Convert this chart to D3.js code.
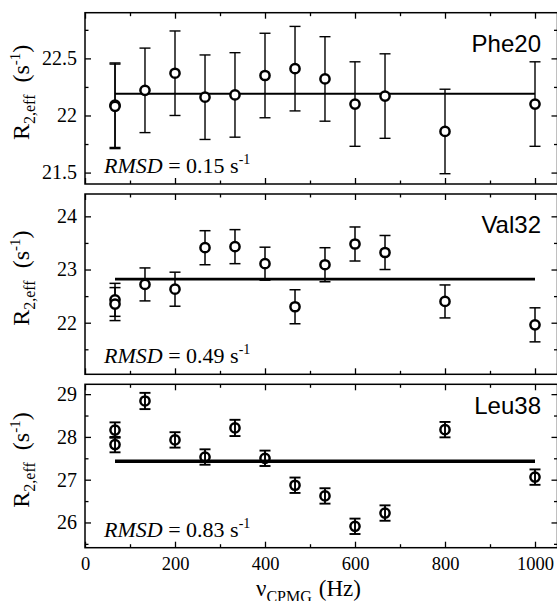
<!DOCTYPE html>
<meta charset="utf-8" />
<style>
  body {
    margin: 0;
    background: #fff;
  }
  svg text {
    font-family: "Liberation Serif", "DejaVu Serif", serif !important;
    fill: #000;
  }
  svg text.sans {
    font-family: "Liberation Sans", Arial, sans-serif !important;
  }
</style>
<body>
  <div id="my_dataviz"></div>
  <script src="https://d3js.org/d3.v7.min.js"></script>
  <script>
    // CPMG frequencies (Hz) - the lowest one was recorded twice
    var freq = [66.7, 66.7, 133.3, 200, 266.7, 333.3, 400, 466.7, 533.3, 600, 666.7, 800, 1000];

    // Phe20
    var phe20R2 = [22.09, 22.08, 22.22, 22.37, 22.16, 22.18, 22.35, 22.41, 22.32, 22.1, 22.17, 21.86, 22.1];
    var phe20Err = [0.37, 0.37, 0.37, 0.37, 0.37, 0.37, 0.37, 0.37, 0.37, 0.37, 0.37, 0.37, 0.37];
    var phe20Fit = 22.19;
    var phe20Rmsd = "0.15";

    // Val32
    var val32R2 = [22.43, 22.35, 22.72, 22.63, 23.41, 23.43, 23.11, 22.3, 23.09, 23.48, 23.32, 22.4, 21.96];
    var val32Err = [0.31, 0.31, 0.31, 0.32, 0.32, 0.32, 0.31, 0.32, 0.32, 0.32, 0.32, 0.31, 0.32];
    var val32Fit = 22.82;
    var val32Rmsd = "0.49";

    // Leu38
    var leu38R2 = [28.16, 27.82, 28.84, 27.93, 27.53, 28.21, 27.5, 26.87, 26.62, 25.91, 26.22, 28.17, 27.06];
    var leu38Err = [0.18, 0.18, 0.19, 0.18, 0.18, 0.19, 0.18, 0.18, 0.18, 0.18, 0.18, 0.18, 0.18];
    var leu38Fit = 27.43;
    var leu38Rmsd = "0.83";

    // tick values
    var xMajor = [0, 200, 400, 600, 800, 1000];
    var xMinor = [100, 300, 500, 700, 900];
    var phe20Major = [21.5, 22, 22.5];
    var phe20Minor = [21.75, 22.25, 22.75];
    var val32Major = [22, 23, 24];
    var val32Minor = [21.5, 22.5, 23.5];
    var leu38Major = [26, 27, 28, 29];
    var leu38Minor = [25.5, 26.5, 27.5, 28.5];

    var width = 557,
      height = 601;

    var svg = d3
      .select("#my_dataviz")
      .append("svg")
      .attr("width", width)
      .attr("height", height);

    // shared x scale
    var x = d3
      .scaleLinear()
      .domain([0, 1050])
      .range([85, 557.5]);

    // one entry per stacked panel (layout + which arrays it uses)
    var panels = [
      {
        name: "Phe20", r2: phe20R2, err: phe20Err, fit: phe20Fit, rmsd: phe20Rmsd,
        major: phe20Major, minor: phe20Minor, domain: [21.4, 22.9],
        top: 12.7, bottom: 184, fitW: 2, barW: 1.4, ringFill: "#fff", labelY: 52
      },
      {
        name: "Val32", r2: val32R2, err: val32Err, fit: val32Fit, rmsd: val32Rmsd,
        major: val32Major, minor: val32Minor, domain: [21.03, 24.42],
        top: 194, bottom: 374.3, fitW: 2.6, barW: 1.5, ringFill: "#fff", labelY: 233
      },
      {
        name: "Leu38", r2: leu38R2, err: leu38Err, fit: leu38Fit, rmsd: leu38Rmsd,
        major: leu38Major, minor: leu38Minor, domain: [25.41, 29.23],
        top: 384.3, bottom: 547.7, fitW: 3.4, barW: 1.9, ringFill: "none", labelY: 414
      }
    ];

    panels.forEach(function(p, i) {
      var last = i === panels.length - 1;
      var y = d3
        .scaleLinear()
        .domain(p.domain)
        .range([p.bottom, p.top]);

      var g = svg.append("g");

      // ticks all point inward, on all four sides
      function tickGroup(axis, transform) {
        var a = g.append("g").attr("transform", transform).call(axis);
        a.attr("font-family", null);
        a.select(".domain").remove();
        a.selectAll("line").attr("stroke", "#000").attr("stroke-width", 1.3);
        return a;
      }

      var xb = tickGroup(
        d3.axisBottom(x).tickValues(xMajor).tickSize(-6).tickPadding(9)
          .tickFormat(last ? d3.format("d") : ""),
        "translate(0," + p.bottom + ")"
      );
      xb.selectAll("text").style("font-size", "18.5px");
      tickGroup(d3.axisBottom(x).tickValues(xMinor).tickSize(-3.5).tickFormat(""), "translate(0," + p.bottom + ")");
      tickGroup(d3.axisTop(x).tickValues(xMajor).tickSize(-6).tickFormat(""), "translate(0," + p.top + ")");
      tickGroup(d3.axisTop(x).tickValues(xMinor).tickSize(-3.5).tickFormat(""), "translate(0," + p.top + ")");

      var yl = tickGroup(
        d3.axisLeft(y).tickValues(p.major).tickSize(-6).tickPadding(8).tickFormat(d3.format("~f")),
        "translate(" + x(0) + ",0)"
      );
      yl.selectAll("text").style("font-size", "20px");
      tickGroup(d3.axisLeft(y).tickValues(p.minor).tickSize(-3.5).tickFormat(""), "translate(" + x(0) + ",0)");
      tickGroup(d3.axisRight(y).tickValues(p.major).tickSize(-6).tickFormat(""), "translate(" + x(1050) + ",0)");
      tickGroup(d3.axisRight(y).tickValues(p.minor).tickSize(-3.5).tickFormat(""), "translate(" + x(1050) + ",0)");

      // frame
      g.append("rect")
        .attr("x", x(0))
        .attr("y", p.top)
        .attr("width", x(1050) - x(0))
        .attr("height", p.bottom - p.top)
        .attr("fill", "none")
        .attr("stroke", "#000")
        .attr("stroke-width", 1.5);

      // flat fit line
      g.append("line")
        .attr("x1", x(freq[0]))
        .attr("x2", x(freq[freq.length - 1]))
        .attr("y1", y(p.fit))
        .attr("y2", y(p.fit))
        .attr("stroke", "#000")
        .attr("stroke-width", p.fitW);

      var pts = freq.map(function(f, j) {
        return { f: f, v: p.r2[j], e: p.err[j] };
      });

      // error bars
      var bars = g.selectAll(".bar").data(pts).enter().append("g")
        .attr("stroke", "#000")
        .attr("stroke-width", p.barW);
      bars.append("line")
        .attr("x1", function(d) { return x(d.f); })
        .attr("x2", function(d) { return x(d.f); })
        .attr("y1", function(d) { return y(d.v - d.e); })
        .attr("y2", function(d) { return y(d.v + d.e); });
      [-1, 1].forEach(function(s) {
        bars.append("line")
          .attr("x1", function(d) { return x(d.f) - 5.5; })
          .attr("x2", function(d) { return x(d.f) + 5.5; })
          .attr("y1", function(d) { return y(d.v + s * d.e); })
          .attr("y2", function(d) { return y(d.v + s * d.e); });
      });

      // open circles
      g.selectAll(".pt").data(pts).enter().append("circle")
        .attr("cx", function(d) { return x(d.f); })
        .attr("cy", function(d) { return y(d.v); })
        .attr("r", 4.6)
        .attr("fill", p.ringFill)
        .attr("stroke", "#000")
        .attr("stroke-width", 2.5);

      // residue name
      g.append("text")
        .attr("class", "sans")
        .attr("x", 541)
        .attr("y", p.labelY)
        .attr("text-anchor", "end")
        .style("font-size", "24px")
        .text(p.name);

      // RMSD note
      var r = g.append("text")
        .attr("x", 104)
        .attr("y", p.bottom - 11)
        .style("font-size", "22px");
      r.append("tspan").style("font-style", "italic").text("RMSD");
      r.append("tspan").text(" = " + p.rmsd + " s");
      r.append("tspan").attr("dy", -9).style("font-size", "14px").text("-1");

      // y title
      var yt = g.append("text")
        .attr("transform", "translate(29," + ((p.top + p.bottom) / 2 - 6) + ") rotate(-90)")
        .attr("text-anchor", "middle")
        .style("font-size", "24px");
      yt.append("tspan").text("R");
      yt.append("tspan").attr("dy", 6).style("font-size", "16px").text("2,eff");
      yt.append("tspan").attr("dy", -6).text("\u00a0\u00a0(s");
      yt.append("tspan").attr("dy", -9).style("font-size", "15px").text("-1");
      yt.append("tspan").attr("dy", 9).text(")");
    });

    // x title (its subscript runs off the bottom edge, as in the figure)
    var xt = svg.append("text")
      .attr("x", 256)
      .attr("y", 596)
      .style("font-size", "23px");
    xt.append("tspan").text("\u03bd");
    xt.append("tspan").attr("dy", 6).style("font-size", "16px").text("CPMG");
    xt.append("tspan").attr("dy", -6).attr("dx", 7).text("(Hz)");
  </script>
</body>
